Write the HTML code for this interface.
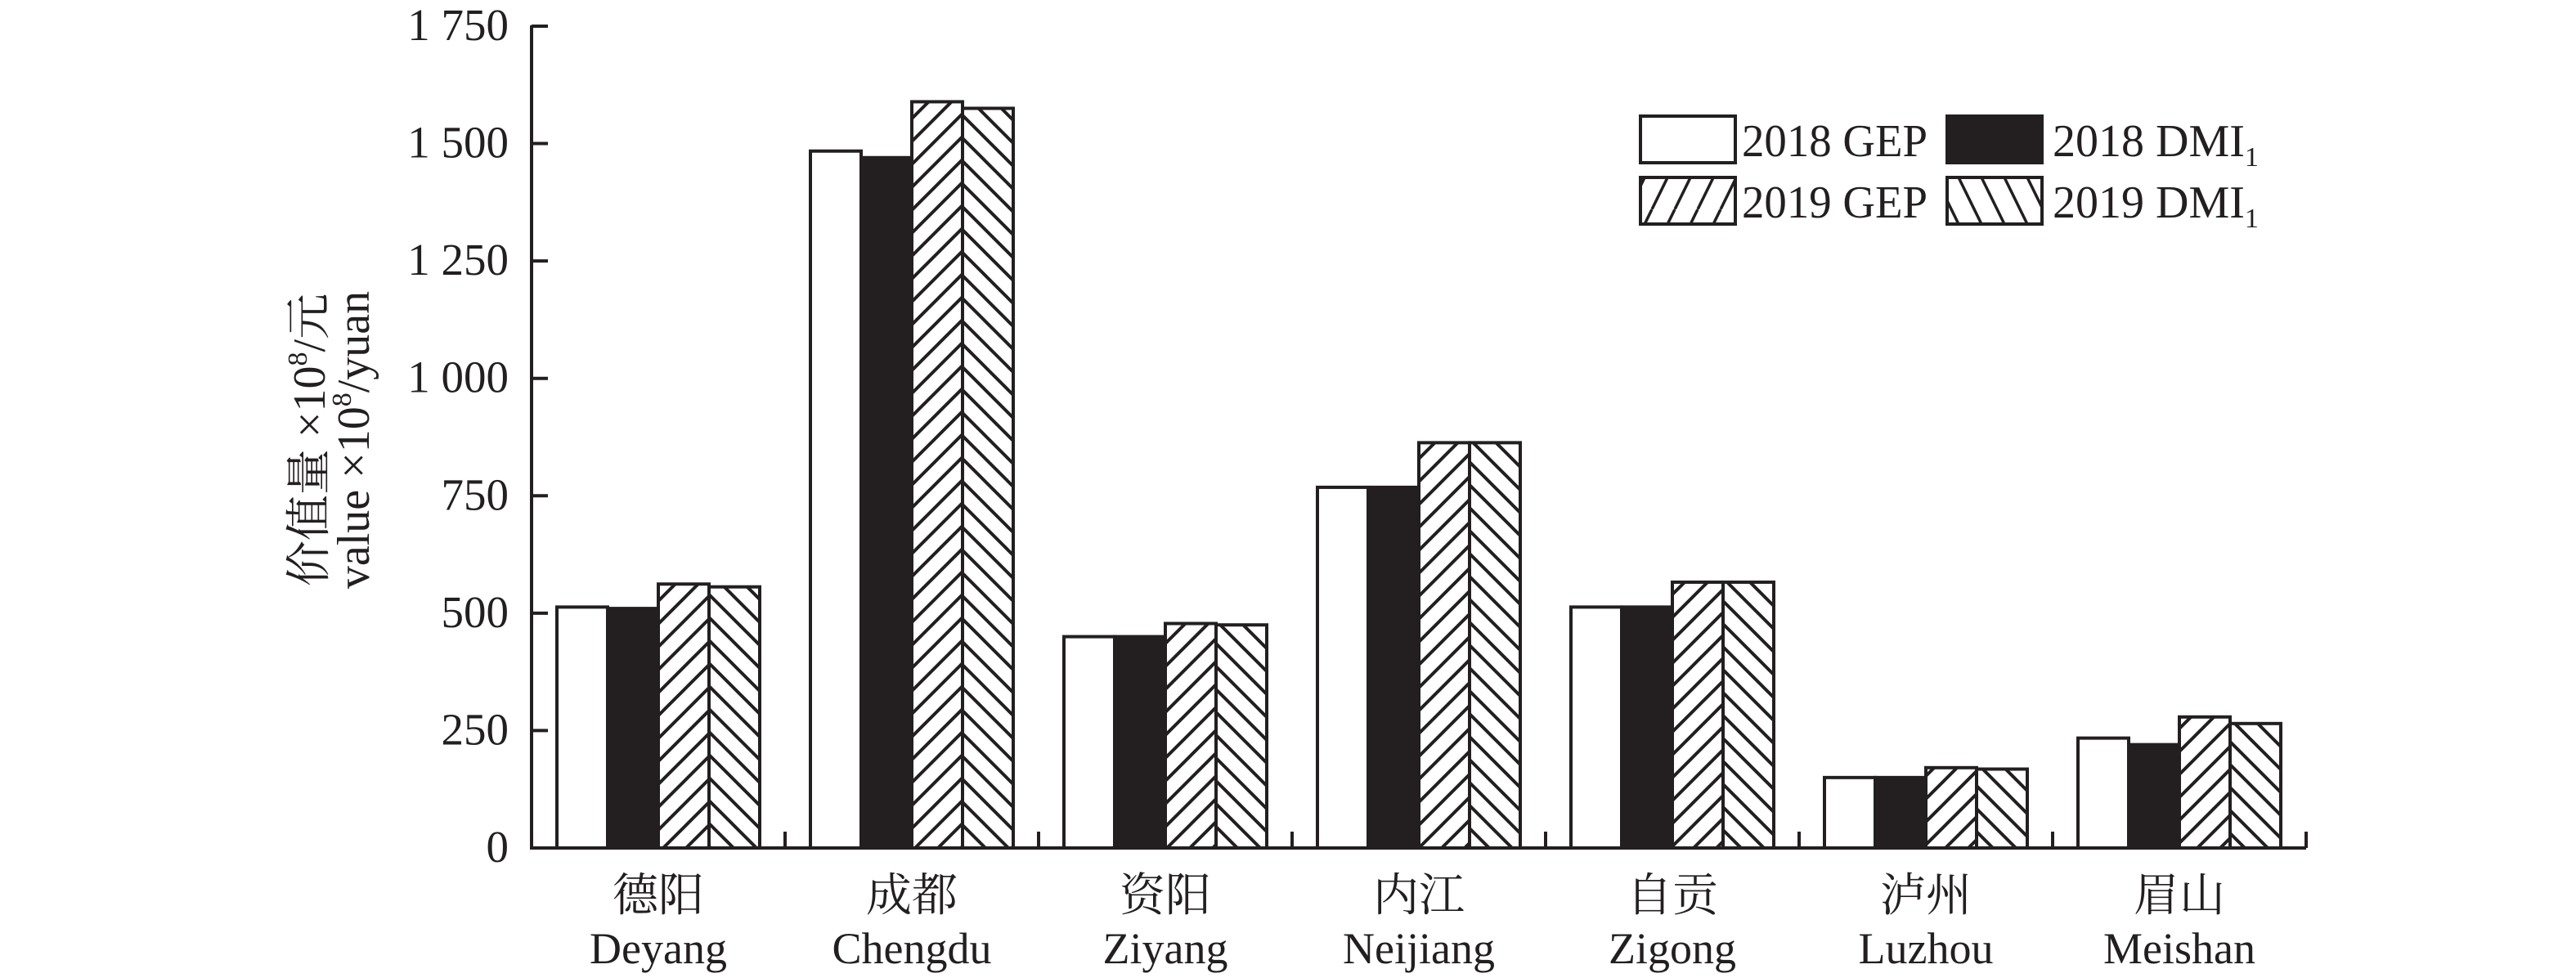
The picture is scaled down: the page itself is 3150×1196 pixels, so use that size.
<!DOCTYPE html>
<html><head><meta charset="utf-8"><style>html,body{margin:0;padding:0;background:#fff}svg{display:block}</style></head>
<body>
<svg width="3150" height="1196" viewBox="0 0 3150 1196" xmlns="http://www.w3.org/2000/svg">
<defs>
<pattern id="fw" patternUnits="userSpaceOnUse" width="28" height="28">
<path d="M-7,7 L7,-7 M0,28 L28,0 M21,35 L35,21" stroke="#231f20" stroke-width="4"/>
</pattern>
<pattern id="bw" patternUnits="userSpaceOnUse" width="28" height="28">
<path d="M-7,21 L7,35 M0,0 L28,28 M21,-7 L35,7" stroke="#231f20" stroke-width="4"/>
</pattern>
<pattern id="lfw" patternUnits="userSpaceOnUse" width="28" height="57" patternTransform="translate(2006,142)">
<path d="M-14,57 L14,0 M14,57 L42,0" stroke="#231f20" stroke-width="3.5"/>
</pattern>
<pattern id="lbw" patternUnits="userSpaceOnUse" width="28" height="57" patternTransform="translate(2381,217)">
<path d="M-14,0 L14,57 M14,0 L42,57" stroke="#231f20" stroke-width="3.5"/>
</pattern>
</defs>
<script>
var NS="http://www.w3.org/2000/svg";
var svg=document.querySelector('svg');
function el(t,a,p){var e=document.createElementNS(NS,t);for(var k in a)e.setAttribute(k,a[k]);(p||svg).appendChild(e);return e;}
var X0=650,Y0=1037,S=0.5743,CW=310,BW=62;
var data=[[513,510,562,556],[1484,1470,1589,1575],[450,450,478,475],[768,768,863,863],[513,513,566,566],[150,150,171,168],[234,220,279,265]];
var fills=['#fff','#231f20','url(#fw)','url(#bw)'];
data.forEach(function(d,i){
  d.forEach(function(v,j){
    var x=X0+i*CW+31+j*BW, h=v*S;
    el('rect',{x:x,y:Y0-h,width:BW,height:h,fill:fills[j],stroke:'#231f20','stroke-width':4});
  });
});
el('line',{x1:X0,y1:31,x2:X0,y2:Y0+2,stroke:'#231f20','stroke-width':4});
el('line',{x1:X0-2,y1:Y0,x2:X0+7*CW,y2:Y0,stroke:'#231f20','stroke-width':4});
for(var k=0;k<=7;k++){var v=k*250,y=Y0-v*S;
  el('line',{x1:X0,y1:y,x2:X0+20,y2:y,stroke:'#231f20','stroke-width':4});
  var t=el('text',{x:622,y:y+17,'font-size':55,'text-anchor':'end','font-family':'Liberation Serif, serif',fill:'#231f20'});
  t.textContent=v>=1000?(Math.floor(v/1000)+' '+String(v%1000).padStart(3,'0')):String(v);
}
for(var i=1;i<=7;i++){var x=X0+i*CW;el('line',{x1:x,y1:Y0,x2:x,y2:Y0-20,stroke:'#231f20','stroke-width':4});}
var cn=['德阳','成都','资阳','内江','自贡','泸州','眉山'];
var en=['Deyang','Chengdu','Ziyang','Neijiang','Zigong','Luzhou','Meishan'];
for(var i=0;i<7;i++){var cx=X0+i*CW+155;
  var a=el('text',{x:cx,y:1114,'font-size':56,'text-anchor':'middle','font-family':"'Noto Serif CJK SC', serif",fill:'#231f20'});a.textContent=cn[i];
  var b=el('text',{x:cx,y:1178,'font-size':54,'text-anchor':'middle','font-family':'Liberation Serif, serif',fill:'#231f20'});b.textContent=en[i];
}
el('rect',{x:2006,y:142,width:116,height:57,fill:'#fff',stroke:'#231f20','stroke-width':4});
el('rect',{x:2381,y:142,width:116,height:57,fill:'#231f20',stroke:'#231f20','stroke-width':4});
el('rect',{x:2006,y:217,width:116,height:57,fill:'url(#lfw)',stroke:'#231f20','stroke-width':4});
el('rect',{x:2381,y:217,width:116,height:57,fill:'url(#lbw)',stroke:'#231f20','stroke-width':4});
</script>
<g font-family="Liberation Serif, serif" fill="#231f20" font-size="56">
<text x="2130" y="191" textLength="227" lengthAdjust="spacingAndGlyphs">2018 GEP</text>
<text x="2510" y="191">2018 DMI<tspan font-size="34" dy="12">1</tspan></text>
<text x="2130" y="266" textLength="227" lengthAdjust="spacingAndGlyphs">2019 GEP</text>
<text x="2510" y="266">2019 DMI<tspan font-size="34" dy="12">1</tspan></text>
</g>
<g transform="translate(397,538) rotate(-90)" fill="#231f20" font-size="56" text-anchor="middle">
<text x="0" y="0" font-family="Liberation Serif, 'Noto Serif CJK SC', serif">价值量 ×10<tspan font-size="34" dy="-22">8</tspan><tspan dy="22">/元</tspan></text>
<text x="0" y="54" font-family="Liberation Serif, serif">value ×10<tspan font-size="34" dy="-22">8</tspan><tspan dy="22">/yuan</tspan></text>
</g>
</svg>
</body></html>
